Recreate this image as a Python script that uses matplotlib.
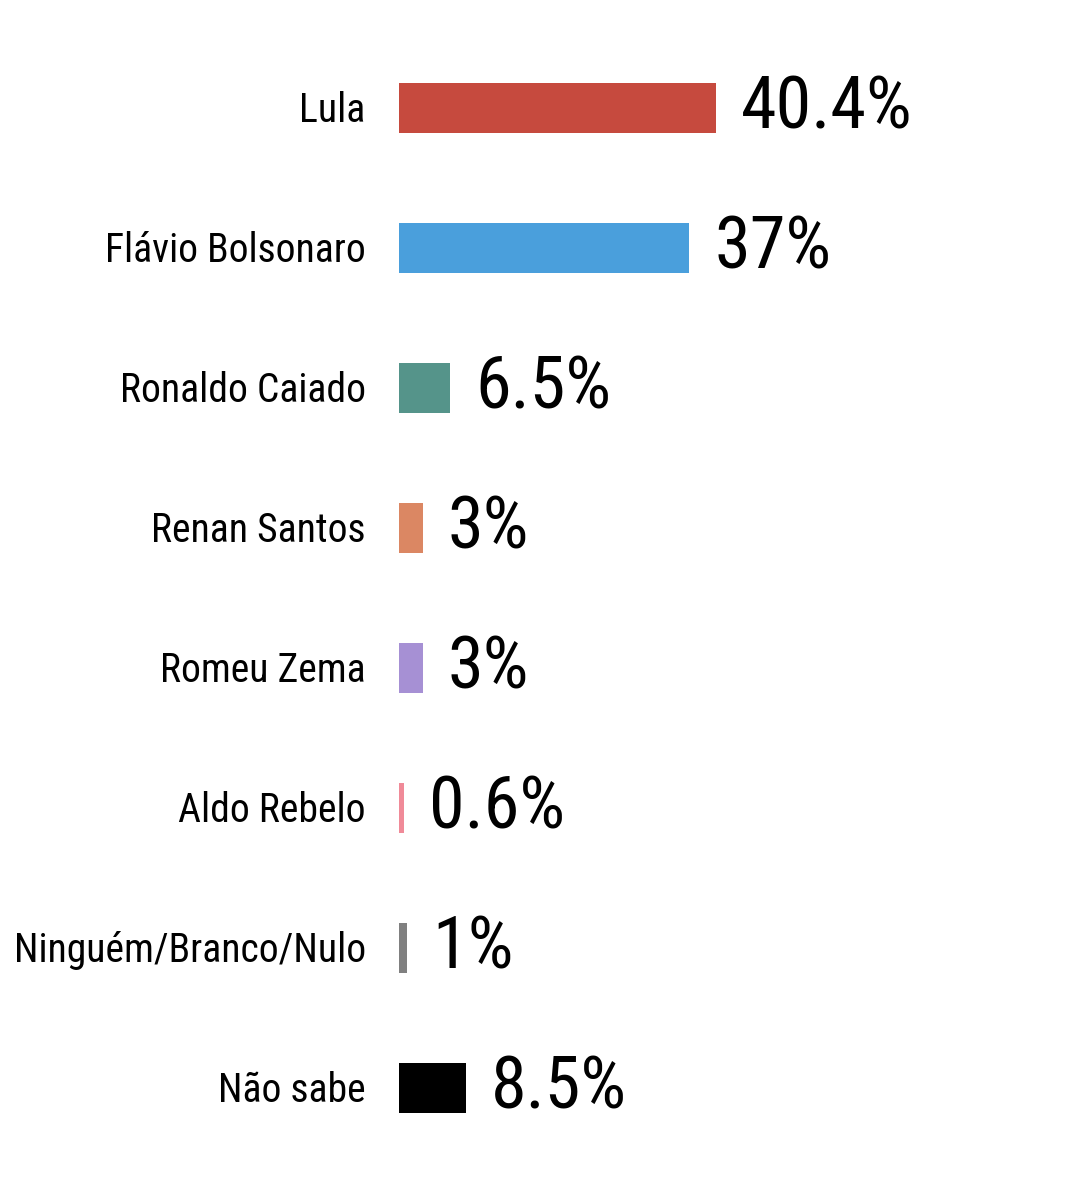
import matplotlib
matplotlib.use("Agg")
import matplotlib.pyplot as plt

names = ["Lula", "Flávio Bolsonaro", "Ronaldo Caiado", "Renan Santos",
         "Romeu Zema", "Aldo Rebelo", "Ninguém/Branco/Nulo", "Não sabe"]
values = [40.4, 37, 6.5, 3, 3, 0.6, 1, 8.5]
value_labels = ["40.4%", "37%", "6.5%", "3%", "3%", "0.6%", "1%", "8.5%"]
colors = ["#C64A3E", "#4A9FDC", "#55948A", "#DB8763",
          "#A690D4", "#F08A98", "#808080", "#000000"]

plt.rcParams["font.family"] = ["Roboto Condensed", "DejaVu Sans"]

fig = plt.figure(figsize=(10.8, 12), dpi=100)
W, H = 1080, 1200
# axes area in pixels: left=399, top=38, width=675, height=1120
ax = fig.add_axes([399 / W, 1 - (38 + 1120) / H, 675 / W, 1120 / H])
ax.set_xlim(0, 86)
ax.set_ylim(len(names) - 0.5, -0.5)

ypos = list(range(len(names)))
ax.barh(ypos, values, height=50 / 140, color=colors)

for y, v, lab, name in zip(ypos, values, value_labels, names):
    ax.annotate(lab, xy=(v, y), xytext=(18, -1), textcoords="offset points",
                ha="left", va="center", fontsize=52, color="black")
    ax.annotate(name, xy=(0, y), xytext=(-24, -1.5), textcoords="offset points",
                ha="right", va="center", fontsize=28.5, color="black",
                annotation_clip=False)

ax.axis("off")
fig.savefig("out.png", dpi=100)
